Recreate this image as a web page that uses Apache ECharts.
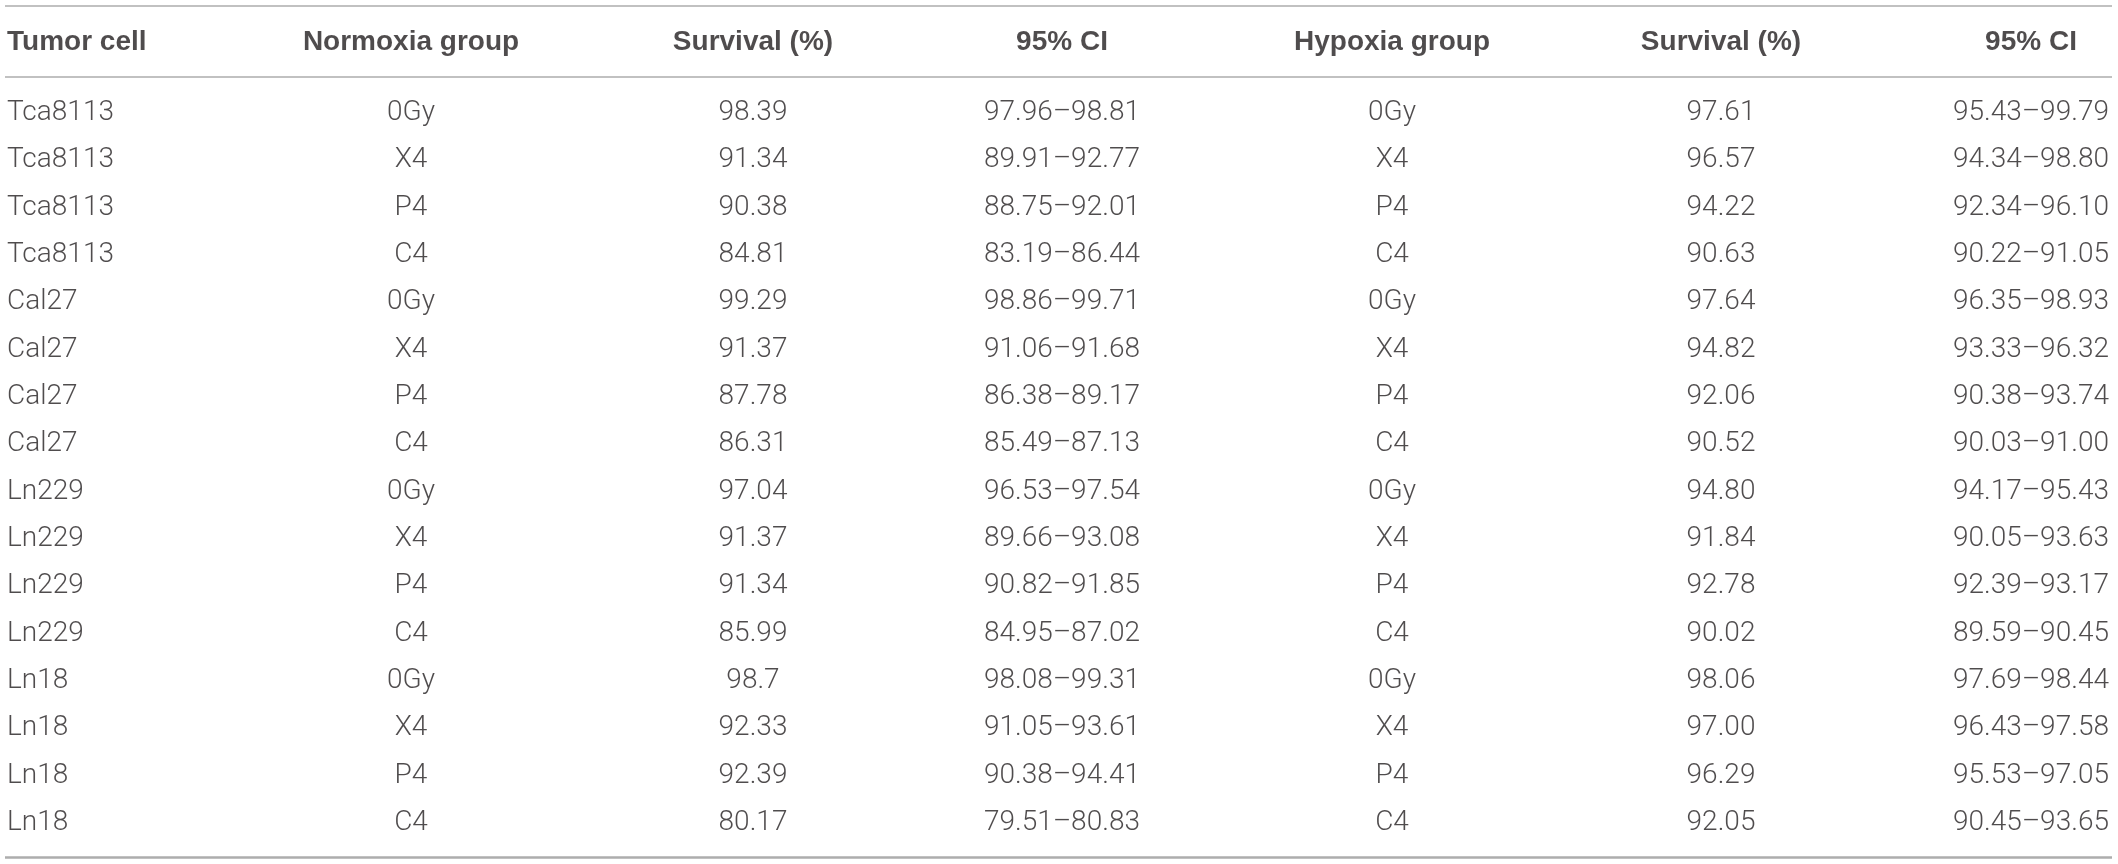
<!DOCTYPE html>
<html>
<head>
<meta charset="utf-8">
<title>Tumor cell survival</title>
<script src="https://cdn.jsdelivr.net/npm/echarts@6/dist/echarts.min.js"></script>
<style>
    html, body { margin: 0; padding: 0; background: #fff; }
    #main { width: 2118px; height: 864px; }
</style>
</head>
<body>
<div id="main"></div>
<script>
// table data
var headers = ['Tumor cell', 'Normoxia group', 'Survival (%)', '95% CI', 'Hypoxia group', 'Survival (%)', '95% CI'];
var tumorCells = ['Tca8113', 'Tca8113', 'Tca8113', 'Tca8113', 'Cal27', 'Cal27', 'Cal27', 'Cal27',
    'Ln229', 'Ln229', 'Ln229', 'Ln229', 'Ln18', 'Ln18', 'Ln18', 'Ln18'];
var normoxiaGroup = ['0Gy', 'X4', 'P4', 'C4', '0Gy', 'X4', 'P4', 'C4', '0Gy', 'X4', 'P4', 'C4', '0Gy', 'X4', 'P4', 'C4'];
var normoxiaSurvival = ['98.39', '91.34', '90.38', '84.81', '99.29', '91.37', '87.78', '86.31',
    '97.04', '91.37', '91.34', '85.99', '98.7', '92.33', '92.39', '80.17'];
var normoxiaCI = ['97.96–98.81', '89.91–92.77', '88.75–92.01', '83.19–86.44', '98.86–99.71', '91.06–91.68',
    '86.38–89.17', '85.49–87.13', '96.53–97.54', '89.66–93.08', '90.82–91.85', '84.95–87.02',
    '98.08–99.31', '91.05–93.61', '90.38–94.41', '79.51–80.83'];
var hypoxiaGroup = ['0Gy', 'X4', 'P4', 'C4', '0Gy', 'X4', 'P4', 'C4', '0Gy', 'X4', 'P4', 'C4', '0Gy', 'X4', 'P4', 'C4'];
var hypoxiaSurvival = ['97.61', '96.57', '94.22', '90.63', '97.64', '94.82', '92.06', '90.52',
    '94.80', '91.84', '92.78', '90.02', '98.06', '97.00', '96.29', '92.05'];
var hypoxiaCI = ['95.43–99.79', '94.34–98.80', '92.34–96.10', '90.22–91.05', '96.35–98.93', '93.33–96.32',
    '90.38–93.74', '90.03–91.00', '94.17–95.43', '90.05–93.63', '92.39–93.17', '89.59–90.45',
    '97.69–98.44', '96.43–97.58', '95.53–97.05', '90.45–93.65'];

// layout: column anchors on the x axis, alignment of each column
var columnAnchor = [2, 406, 748, 1057, 1387, 1716, 2026];
var columnAlign = ['left', 'center', 'center', 'center', 'center', 'center', 'center'];
var headerRow = -1.5;

var chart = echarts.init(document.getElementById('main'), null, { renderer: 'canvas' });

var columns = [tumorCells, normoxiaGroup, normoxiaSurvival, normoxiaCI, hypoxiaGroup, hypoxiaSurvival, hypoxiaCI];

var series = [];

columns.forEach(function (col, c) {
    var data = col.map(function (text, r) {
        return [columnAnchor[c], r, text];
    });
    data.unshift({
        value: [columnAnchor[c], headerRow, headers[c]],
        label: { fontWeight: 'bold', fontFamily: 'Liberation Sans', color: '#231f20' }
    });
    series.push({
        type: 'scatter',
        symbolSize: 0,
        silent: true,
        data: data,
        label: {
            show: true,
            position: 'inside',
            align: columnAlign[c],
            verticalAlign: 'middle',
            fontSize: 28,
            fontFamily: 'Roboto',
            fontWeight: 300,
            color: '#231f20',
            formatter: function (p) { return p.value[2]; }
        }
    });
});

// table rules
series.push({
    type: 'line',
    data: [],
    markLine: {
        silent: true,
        symbol: ['none', 'none'],
        label: { show: false },
        data: [
            { yAxis: -2.261, lineStyle: { width: 1.5 } },
            { yAxis: -0.761, lineStyle: { width: 1.5 } },
            { yAxis: 15.72, lineStyle: { width: 2.5 } }
        ],
        lineStyle: { color: '#adadad', type: 'solid' }
    }
});

var option = {
    animation: false,
    grid: { left: 5, right: 6, top: 6, bottom: 7 },
    xAxis: { type: 'value', min: 0, max: 2107, show: false },
    yAxis: { type: 'value', inverse: true, min: -2.261, max: 15.72, show: false },
    series: series
};

chart.setOption(option);
</script>
</body>
</html>
